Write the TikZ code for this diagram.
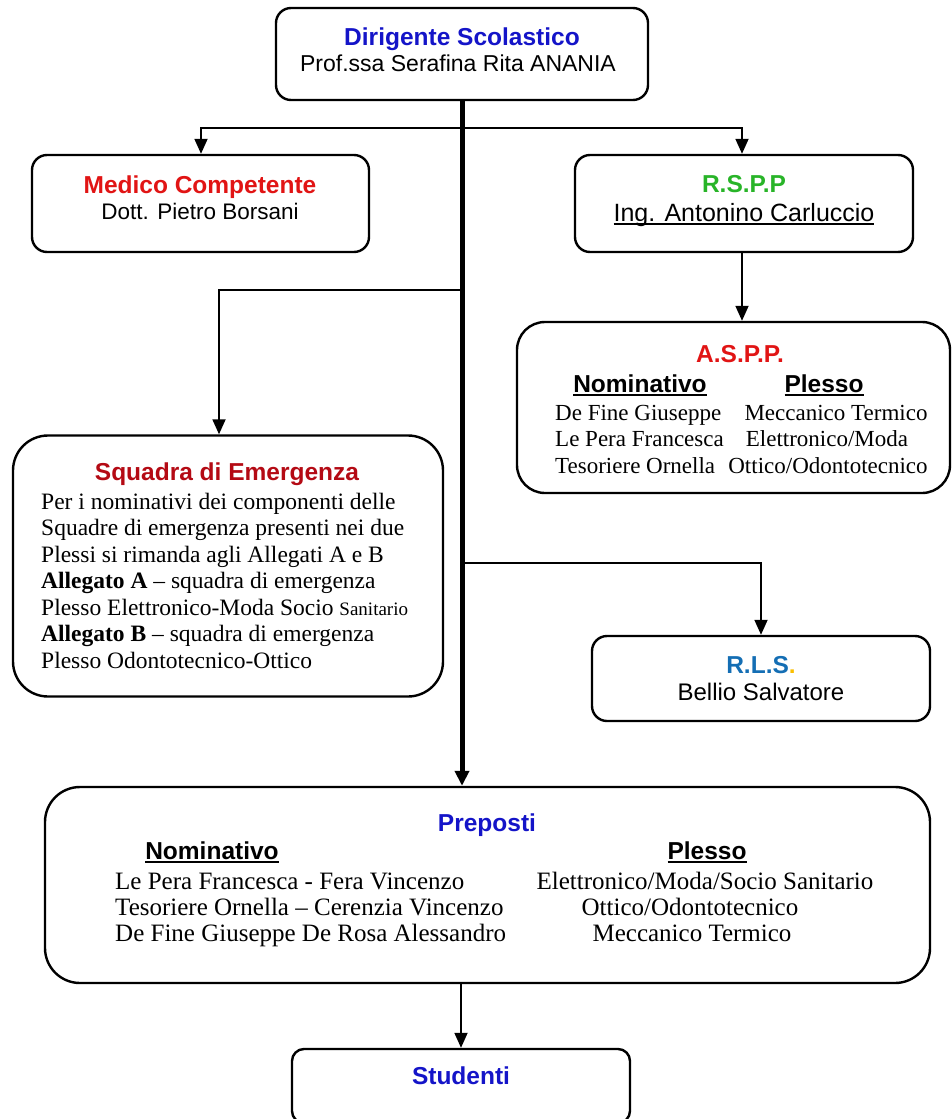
\documentclass[tikz,border=0pt]{standalone}
\usepackage{fontspec}
\setmainfont{Liberation Serif}
\newfontfamily\arial{Liberation Sans}
\usetikzlibrary{arrows.meta}
\definecolor{dirblue}{RGB}{20,20,200}
\definecolor{medred}{RGB}{225,20,20}
\definecolor{sqred}{RGB}{180,10,20}
\definecolor{rsppgreen}{RGB}{40,180,40}
\definecolor{rlsblue}{RGB}{20,110,180}
\definecolor{rlsorange}{RGB}{250,190,0}
\newcommand\ulx[1]{\setbox0\hbox{#1}\rlap{\rule[-3.5pt]{\wd0}{2pt}}\box0}
\newcommand\sz[1]{\fontsize{#1}{26}\selectfont}
\begin{document}
\begin{tikzpicture}[x=1pt,y=-1pt,
  box/.style={draw, line width=2.4pt, rounded corners=#1, inner sep=0pt},
  box/.default=15pt,
  arr/.style={line width=1.8pt, -{Triangle[width=13pt,length=15pt]}},
  mainarr/.style={line width=5pt, -{Triangle[width=14pt,length=15pt]}},
  txt/.style={inner sep=0pt, anchor=base},
  ltxt/.style={inner sep=0pt, anchor=base west},
  ttl/.style={txt, font=\arial\bfseries\sz{24.5}},
  sans/.style={txt, font=\arial\sz{#1}},
  serif/.style={txt, font=\sz{#1}},
  lserif/.style={ltxt, font=\sz{#1}}]
\useasboundingbox (0,0) rectangle (952,1119);
\clip (0,0) rectangle (952,1119);

% boxes
\node[box, minimum width=372pt, minimum height=92pt] (dir) at (462,54) {};
\node[box, minimum width=337pt, minimum height=97pt] (med) at (200.5,203.5) {};
\node[box, minimum width=338pt, minimum height=97pt] (rspp) at (744,203.5) {};
\node[box=28pt, minimum width=433pt, minimum height=171pt] (aspp) at (733.5,407.5) {};
\node[box=35pt, minimum width=430pt, minimum height=261pt] (squadra) at (228,566) {};
\node[box, minimum width=338pt, minimum height=85pt] (rls) at (761,678.5) {};
\node[box=35pt, minimum width=885pt, minimum height=196pt] (prep) at (487.5,885) {};
\node[box=12pt, minimum width=338pt, minimum height=74pt] (stud) at (461,1086) {};

% junctions
\coordinate (j1) at (462,128);
\coordinate (j2) at (462,290);
\coordinate (j3) at (462,563);

% connectors
\draw[mainarr] (dir.south) -- (dir.south |- prep.north);
\draw[arr] (j1) -| ([xshift=0.5pt]med.north);
\draw[arr] (j1) -| ([xshift=-2pt]rspp.north);
\draw[arr] ([xshift=-2pt]rspp.south) -- ([xshift=-2pt]rspp.south |- aspp.north);
\draw[arr] (j2) -| ([xshift=-9pt]squadra.north);
\draw[arr] (j3) -| (rls.north);
\draw[arr] (stud.north |- prep.south) -- (stud.north);

% Dirigente
\node[ttl, text=dirblue] (dirT) at (462,45) {Dirigente Scolastico};
\node[sans=23] (dirN) at (458,71) {Prof.ssa Serafina Rita ANANIA};

% Medico
\node[ttl, text=medred] (medT) at (200,193) {Medico Competente};
\node[sans=22.5] (medN) at (200,219) {Dott. Pietro Borsani};

% RSPP
\node[ttl, text=rsppgreen] (rsppT) at (744,192) {R.S.P.P};
\node[sans=25] (rsppN) at (744,221) {\ulx{Ing. Antonino Carluccio}};

% ASPP
\node[ttl, text=medred] (asppT) at (740,362) {A.S.P.P.};
\node[ttl] (asppH1) at (640,392) {\ulx{Nominativo}};
\node[ttl] (asppH2) at (824,392) {\ulx{Plesso}};
\node[lserif=23] (asppL1) at (555,420) {De Fine Giuseppe};
\node[lserif=23] (asppL2) at (555,446) {Le Pera Francesca};
\node[lserif=23] (asppL3) at (555,473) {Tesoriere Ornella};
\node[serif=23] (asppR1) at (836,420) {Meccanico Termico};
\node[serif=23] (asppR2) at (827,446) {Elettronico/Moda};
\node[serif=23] (asppR3) at (828,473) {Ottico/Odontotecnico};

% Squadra
\node[ttl, text=sqred] (sqT) at (227,480) {Squadra di Emergenza};
\node[lserif=23.5] (sq1) at (41,509) {Per i nominativi dei componenti delle};
\node[lserif=23.5] (sq2) at (41,535.5) {Squadre di emergenza presenti nei due};
\node[lserif=23.5] (sq3) at (41,562) {Plessi si rimanda agli Allegati A e B};
\node[lserif=23.5] (sq4) at (41,588.5) {\textbf{Allegato A} -- squadra di emergenza};
\node[lserif=23.5] (sq5) at (41,615) {Plesso Elettronico-Moda Socio {\fontsize{19}{20}\selectfont Sanitario}};
\node[lserif=23.5] (sq6) at (41,641.5) {\textbf{Allegato B} -- squadra di emergenza};
\node[lserif=23.5] (sq7) at (41,668) {Plesso Odontotecnico-Ottico};

% RLS
\node[ttl] (rlsT) at (761,673) {\textcolor{rlsblue}{R.L.S}\textcolor{rlsorange}{.}};
\node[sans=24] (rlsN) at (761,700) {Bellio Salvatore};

% Preposti
\node[ttl, text=dirblue] (prT) at (487,831) {Preposti};
\node[ttl] (prH1) at (212,859) {\ulx{Nominativo}};
\node[ttl] (prH2) at (707,859) {\ulx{Plesso}};
\node[lserif=25] (prL1) at (115,889) {Le Pera Francesca - Fera Vincenzo};
\node[lserif=25] (prL2) at (115,915) {Tesoriere Ornella -- Cerenzia Vincenzo};
\node[lserif=25] (prL3) at (115,941) {De Fine Giuseppe De Rosa Alessandro};
\node[serif=25] (prR1) at (705,889) {Elettronico/Moda/Socio Sanitario};
\node[serif=25] (prR2) at (690,915) {Ottico/Odontotecnico};
\node[serif=25] (prR3) at (692,941) {Meccanico Termico};

% Studenti
\node[ttl, text=dirblue] (studT) at (461,1084) {Studenti};
\end{tikzpicture}
\end{document}
